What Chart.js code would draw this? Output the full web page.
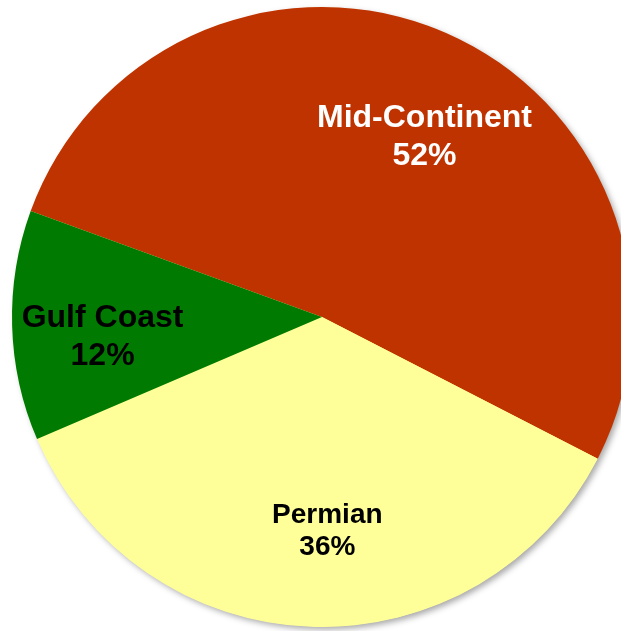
<!DOCTYPE html>
<html>
<head>
<meta charset="utf-8">
<script src="https://cdn.jsdelivr.net/npm/chart.js@4"></script>
<style>
  html, body { margin: 0; padding: 0; background: #ffffff; overflow: hidden; width: 621px; height: 631px; }
  #wrap { position: absolute; left: 0; top: 0; width: 644px; height: 634px; }
</style>
</head>
<body>
<div id="wrap"><canvas id="c"></canvas></div>
<script>
const categories = ["Mid-Continent", "Permian", "Gulf Coast"];
const shares = [52, 36, 12];
const sliceColors = ["#BF3300", "#FFFF99", "#007A00"];
const labelColors = ["#FFFFFF", "#000000", "#000000"];

const shadowPlugin = {
  id: 'shadow',
  beforeDatasetsDraw(chart) {
    const meta = chart.getDatasetMeta(0);
    if (!meta.data.length) return;
    const p = meta.data[0].getProps(['x', 'y', 'outerRadius'], true);
    const ctx = chart.ctx;
    ctx.save();
    ctx.shadowColor = 'rgba(0,0,0,0.35)';
    ctx.shadowBlur = 6;
    ctx.shadowOffsetX = 3;
    ctx.shadowOffsetY = 3;
    ctx.fillStyle = '#FFFF99';
    ctx.beginPath();
    ctx.arc(p.x, p.y, p.outerRadius - 0.5, 0, Math.PI * 2);
    ctx.fill();
    ctx.restore();
  }
};

const labelPlugin = {
  id: 'sliceLabels',
  afterDatasetsDraw(chart) {
    const ctx = chart.ctx;
    const meta = chart.getDatasetMeta(0);
    const fontSizes = [32, 28, 32];
    const angleShift = [0.1, -0.06, -0.05];
    const radFrac = [0.675, 0.685, 0.71];
    meta.data.forEach((arc, i) => {
      const p = arc.getProps(['x', 'y', 'startAngle', 'endAngle', 'outerRadius'], true);
      const mid = (p.startAngle + p.endAngle) / 2 + angleShift[i];
      const r = p.outerRadius * radFrac[i];
      const cx = p.x + Math.cos(mid) * r;
      const cy = p.y + Math.sin(mid) * r;
      ctx.save();
      ctx.fillStyle = labelColors[i];
      ctx.font = 'bold ' + fontSizes[i] + 'px "Liberation Sans", Arial, sans-serif';
      ctx.textAlign = 'center';
      ctx.textBaseline = 'alphabetic';
      const lh = i === 1 ? 32 : 38;
      ctx.fillText(categories[i], cx, cy - lh * 0.5 + fontSizes[i] * 0.36);
      ctx.fillText(shares[i] + '%', cx, cy + lh * 0.5 + fontSizes[i] * 0.36);
      ctx.restore();
    });
  }
};

new Chart(document.getElementById('c'), {
  type: 'pie',
  data: {
    labels: categories,
    datasets: [{
      data: shares,
      backgroundColor: sliceColors,
      borderWidth: 0
    }]
  },
  options: {
    responsive: true,
    maintainAspectRatio: false,
    animation: false,
    rotation: 290,
    layout: { padding: 7 },
    plugins: {
      legend: { display: false },
      tooltip: { enabled: false }
    }
  },
  plugins: [shadowPlugin, labelPlugin]
});
</script>
</body>
</html>
